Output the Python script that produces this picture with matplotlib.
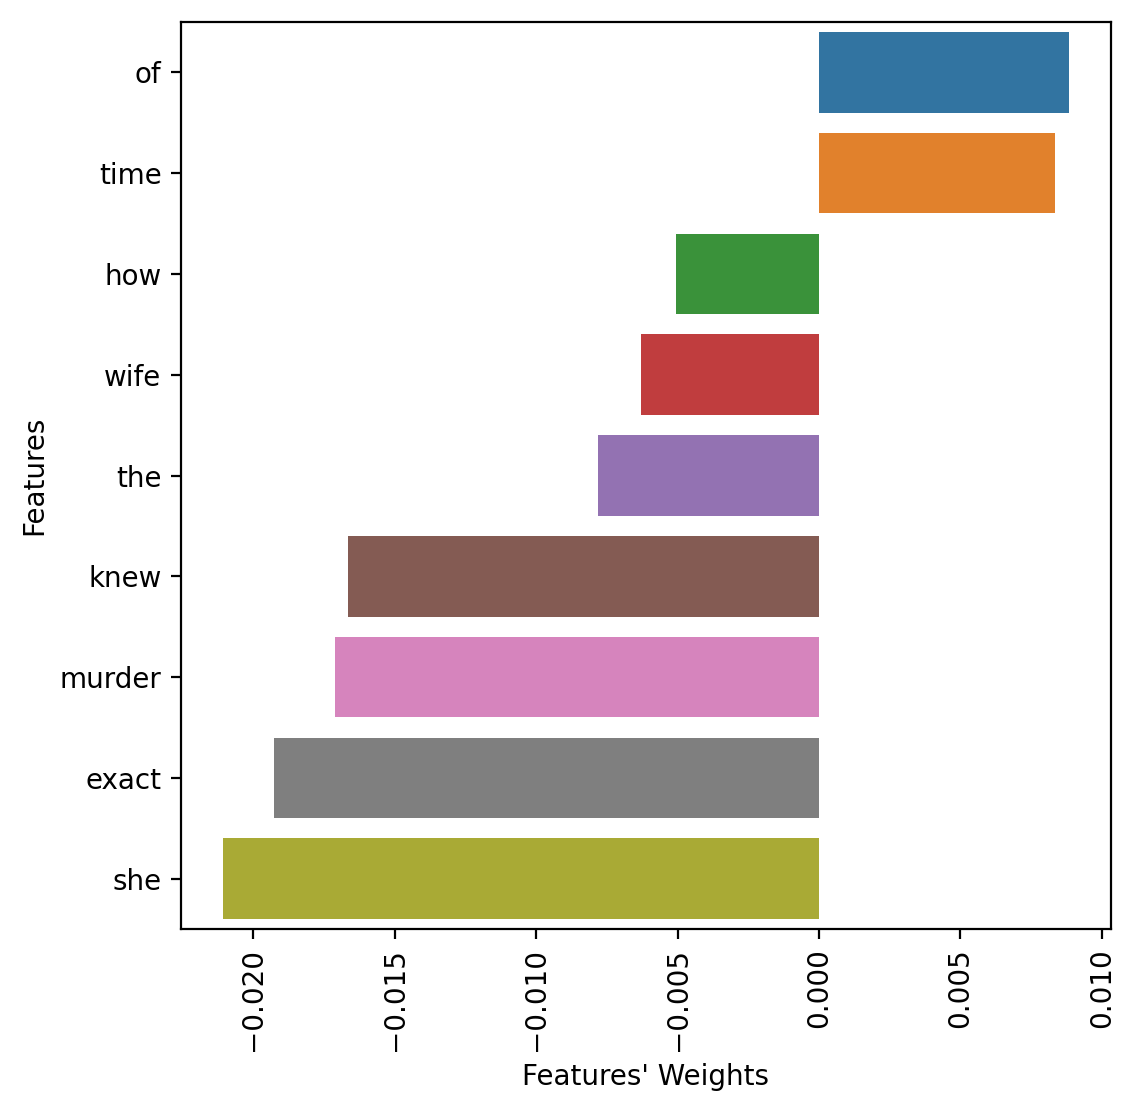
import matplotlib
matplotlib.use("Agg")
import matplotlib.pyplot as plt

features = ["of", "time", "how", "wife", "the", "knew", "murder", "exact", "she"]
weights = [0.00883, 0.00834, -0.00505, -0.00629, -0.00781, -0.01664, -0.01710, -0.01926, -0.02106]

# seaborn-style desaturated tab10 colours
colors = ["#3274a1", "#e1812c", "#3a923a", "#c03d3e", "#9372b2",
          "#845b53", "#d684bd", "#7f7f7f", "#a9aa35"]

fig = plt.figure(figsize=(5.68, 5.555), dpi=200)
ax = fig.add_axes([0.1593, 0.1638, 0.8187, 0.8164])

pos = list(range(len(features)))
ax.barh(pos, weights, height=0.8, color=colors)
ax.set_yticks(pos)
ax.set_yticklabels(features)
ax.set_ylim(len(features) - 0.5, -0.5)
ax.set_xticks([-0.020, -0.015, -0.010, -0.005, 0.000, 0.005, 0.010])
ax.set_xticklabels(["\u22120.020", "\u22120.015", "\u22120.010", "\u22120.005",
                    "0.000", "0.005", "0.010"], rotation=90)
ax.set_xlabel("Features' Weights")
ax.set_ylabel("Features")

fig.savefig("out.png", dpi=200)
